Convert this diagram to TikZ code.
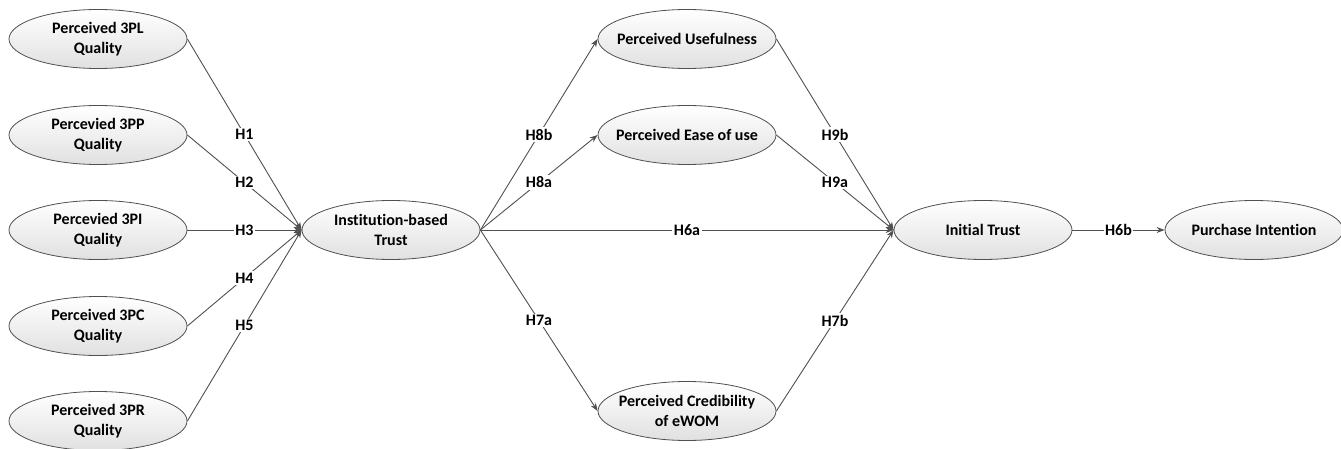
\documentclass[tikz,border=0pt]{standalone}
\usepackage{fontspec}
\setmainfont[Ligatures={NoCommon}]{Carlito}
\usetikzlibrary{shapes.geometric,arrows.meta,shadows}
\definecolor{edge}{HTML}{505050}
\tikzset{
  var/.style={ellipse,draw=edge,line width=0.8pt,top color=white,bottom color=black!12,
    minimum width=178pt,minimum height=59pt,inner xsep=-30pt,inner ysep=-12pt,align=center,
    font=\fontsize{16}{20}\selectfont\bfseries},
  conn/.style={draw=edge,line width=0.9pt,-{Stealth[length=8pt,width=6pt]}},
  lbl/.style={fill=white,inner sep=1.5pt,pos=0.5,font=\fontsize{16}{18}\selectfont\bfseries,text=black}
}
\begin{document}
\begin{tikzpicture}[x=1pt,y=-1pt]
\useasboundingbox (0,0) rectangle (1341,449);
\node[var] (pl) at (98,39) {Perceived 3PL\\Quality};
\node[var] (pp) at (98,135) {Percevied 3PP\\Quality};
\node[var] (pi) at (98,230) {Percevied 3PI\\Quality};
\node[var] (pc) at (98,326) {Perceived 3PC\\Quality};
\node[var] (pr) at (98,421) {Perceived 3PR\\Quality};
\node[var] (ibt) at (391,230) {Institution-based\\Trust};
\node[var] (pu) at (687,39) {Perceived Usefulness};
\node[var] (pe) at (687,135) {Perceived Ease of use};
\node[var] (cr) at (687,411) {Perceived Credibility\\of eWOM};
\node[var] (it) at (983,230) {Initial Trust};
\node[var] (pint) at (1254,230) {Purchase Intention};
\draw[conn] (pl.east) -- (ibt.west) node[lbl]{H1};
\draw[conn] (pp.east) -- (ibt.west) node[lbl]{H2};
\draw[conn] (pi.east) -- (ibt.west) node[lbl]{H3};
\draw[conn] (pc.east) -- (ibt.west) node[lbl]{H4};
\draw[conn] (pr.east) -- (ibt.west) node[lbl]{H5};
\draw[conn] (ibt.east) -- (pu.west) node[lbl]{H8b};
\draw[conn] (ibt.east) -- (pe.west) node[lbl]{H8a};
\draw[conn] (ibt.east) -- (it.west) node[lbl]{H6a};
\draw[conn] (ibt.east) -- (cr.west) node[lbl]{H7a};
\draw[conn] (pu.east) -- (it.west) node[lbl]{H9b};
\draw[conn] (pe.east) -- (it.west) node[lbl]{H9a};
\draw[conn] (cr.east) -- (it.west) node[lbl]{H7b};
\draw[conn] (it.east) -- (pint.west) node[lbl]{H6b};
\end{tikzpicture}
\end{document}
